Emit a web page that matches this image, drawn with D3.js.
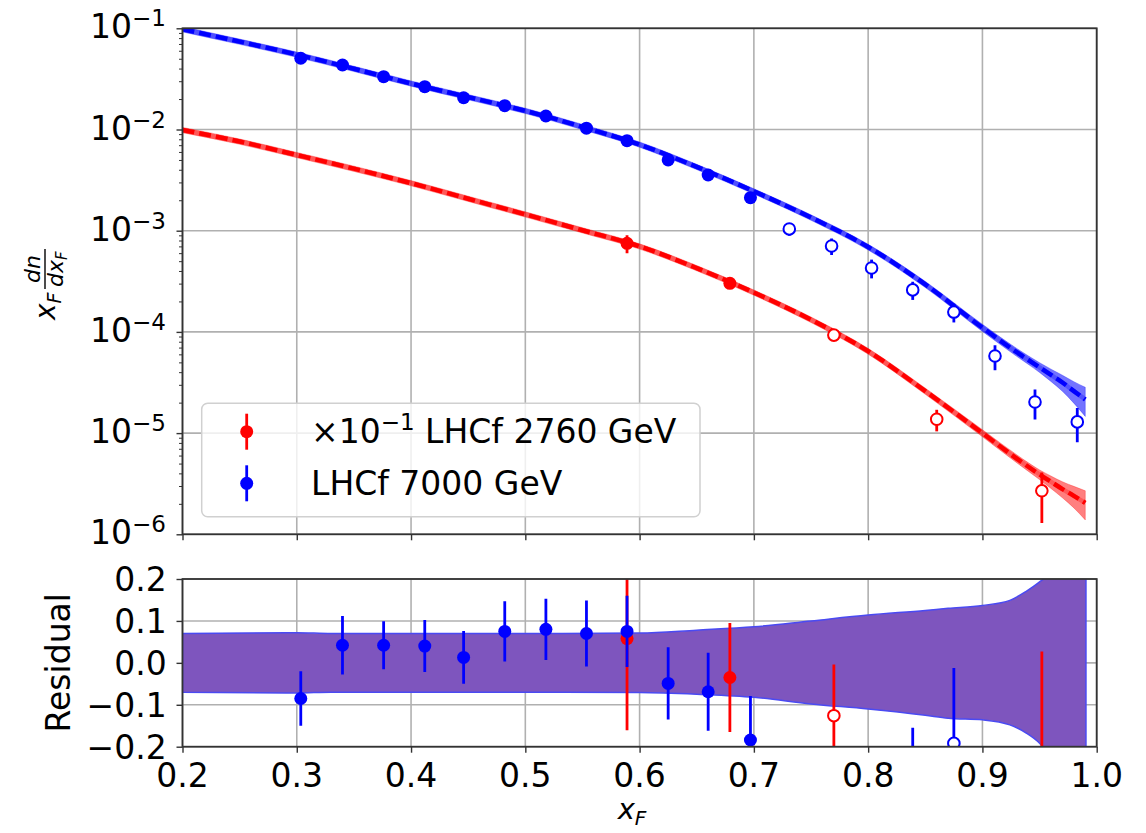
<!DOCTYPE html>
<html><head><meta charset="utf-8">
<script src="https://cdn.jsdelivr.net/npm/d3@7"></script>
<style>body{margin:0;background:#fff;} svg{display:block;font-family:"DejaVu Sans",sans-serif;}</style>
</head><body><svg id="c" width="1146" height="833"></svg>
<script>
// ---------- data ----------
const xTicks = [0.2,0.3,0.4,0.5,0.6,0.7,0.8,0.9,1.0];
const xTickLabels = ["0.2","0.3","0.4","0.5","0.6","0.7","0.8","0.9","1.0"];
const yTopTicks = [1e-1,1e-2,1e-3,1e-4,1e-5,1e-6];
const yTopTickExp = ["\u22121","\u22122","\u22123","\u22124","\u22125","\u22126"];
const resTicks = [0.2,0.1,0.0,-0.1,-0.2];
const resTickLabels = ["0.2","0.1","0.0","\u22120.1","\u22120.2"];

// model curves
const xModel    = [0.2,0.25,0.3,0.35,0.4,0.45,0.5,0.55,0.6,0.65,0.7,0.75,0.8,0.85,0.9,0.93,0.95,0.96,0.97,0.98,0.99];
const blueModel = [0.098,0.0738,0.055,0.0398,0.0285,0.0209,0.0153,0.0106,0.0071,0.00427,0.00245,0.00135,6.9e-4,2.95e-4,1.1e-4,6.3e-5,4.47e-5,3.76e-5,3.16e-5,2.6e-5,2.15e-5];
const redModel  = [9.9e-3,7.6e-3,5.6e-3,4.1e-3,2.95e-3,2.07e-3,1.45e-3,1.01e-3,7.0e-4,4.27e-4,2.45e-4,1.32e-4,6.45e-5,2.6e-5,1.0e-5,5.6e-6,3.9e-6,3.3e-6,2.8e-6,2.4e-6,2.04e-6];
const bandRel   = [0.06,0.06,0.06,0.06,0.06,0.06,0.06,0.06,0.06,0.06,0.06,0.062,0.065,0.07,0.08,0.09,0.11,0.14,0.18,0.24,0.32];

// residual band
const resBandX  = [0.2,0.3,0.33,0.4,0.5,0.6,0.65,0.7,0.75,0.8,0.85,0.87,0.9,0.924,0.938,0.95,0.957,0.965,0.975,0.9906];
const resBandHi = [0.07,0.072,0.07,0.07,0.07,0.071,0.078,0.086,0.1,0.114,0.125,0.13,0.137,0.149,0.17,0.193,0.21,0.26,0.34,0.45];
const resBandLo = [-0.07,-0.072,-0.07,-0.07,-0.07,-0.071,-0.075,-0.082,-0.098,-0.11,-0.125,-0.132,-0.136,-0.148,-0.167,-0.192,-0.215,-0.26,-0.34,-0.45];

// LHCf 7000 GeV
const blueX   = [0.3035,0.340,0.376,0.412,0.446,0.482,0.518,0.5535,0.589,0.625,0.660,0.697,0.731,0.768,0.803,0.839,0.875,0.911,0.946,0.983];
const blueY   = [0.0506,0.0434,0.0333,0.0265,0.0206,0.0172,0.0136,0.0103,0.00775,0.0050,0.00355,0.00212,0.00104,0.000706,0.000428,0.000260,0.000157,5.78e-5,2.03e-5,1.29e-5];
const blueErr = [0.0033,0.0030,0.0019,0.0016,0.0013,0.0012,0.0010,0.0008,0.00066,0.00043,0.00033,0.00022,1.5e-4,1.3e-4,9e-5,5.3e-5,3.3e-5,1.6e-5,6.7e-6,4.8e-6];
const blueOpen = [0,0,0,0,0,0,0,0,0,0,0,0,1,1,1,1,1,1,1,1];
const blueRes    = [-0.085,0.042,0.042,0.040,0.013,0.075,0.080,0.070,0.075,-0.049,-0.069,-0.184,-0.34,-0.31,-0.33,-0.27,-0.192,-0.45,-0.5,-0.5];
const blueResErr = [0.065,0.07,0.057,0.062,0.063,0.072,0.073,0.079,0.085,0.086,0.093,0.105,0.05,0.08,0.09,0.115,0.18,0.2,0.2,0.25];

// x10^-1 LHCf 2760 GeV
const redX   = [0.589,0.679,0.770,0.860,0.952];
const redY   = [7.5e-4,3.02e-4,9.3e-5,1.37e-5,2.69e-6];
const redErr = [1.5e-4,3.5e-5,1.2e-5,3.3e-6,1.4e-6];
const redOpen = [0,0,1,1,1];
const redRes    = [0.058,-0.035,-0.126,-0.5,-0.35];
const redResErr = [0.219,0.13,0.122,0.17,0.377];

// ---------- layout ----------
const L = 182.5, R = 1096.7;
const T1 = 28.3, B1 = 534.3, T2 = 579, B2 = 746.7;
const x = d3.scaleLinear().domain([0.2,1.0]).range([L,R]);
const yTop = d3.scaleLog().domain([1e-6,1e-1]).range([B1,T1]);
const yRes = d3.scaleLinear().domain([-0.2,0.2]).range([B2,T2]);

const svg = d3.select("#c");
const defs = svg.append("defs");
defs.append("clipPath").attr("id","clipTop").append("rect").attr("x",L).attr("y",T1).attr("width",R-L).attr("height",B1-T1);
defs.append("clipPath").attr("id","clipRes").append("rect").attr("x",L).attr("y",T2).attr("width",R-L).attr("height",B2-T2);

const gridC = "#b0b0b0", gridW = 1.6;
const BLUE = "#0000ff", RED = "#ff0000";

// ---------- top panel ----------
const gTop = svg.append("g");
gTop.append("g").selectAll("line").data(xTicks).join("line")
  .attr("x1",d=>x(d)).attr("x2",d=>x(d)).attr("y1",T1).attr("y2",B1)
  .attr("stroke",gridC).attr("stroke-width",gridW);
gTop.append("g").selectAll("line").data(yTopTicks).join("line")
  .attr("x1",L).attr("x2",R).attr("y1",d=>yTop(d)).attr("y2",d=>yTop(d))
  .attr("stroke",gridC).attr("stroke-width",gridW);

const plotTop = gTop.append("g").attr("clip-path","url(#clipTop)");
function drawModel(vals, color, op) {
  const pts = xModel.map((xx,i)=>({x:xx, y:vals[i], lo:vals[i]*(1-bandRel[i]), hi:vals[i]*(1+bandRel[i])}));
  plotTop.append("path").datum(pts)
    .attr("d", d3.area().x(d=>x(d.x)).y0(d=>yTop(d.lo)).y1(d=>yTop(d.hi)).curve(d3.curveMonotoneX))
    .attr("fill",color).attr("fill-opacity",op).attr("stroke",color).attr("stroke-opacity",0.3).attr("stroke-width",1);
  const line = d3.line().x(d=>x(d.x)).y(d=>yTop(d.y)).curve(d3.curveMonotoneX);
  plotTop.append("path").datum(pts).attr("d",line).attr("fill","none")
    .attr("stroke",color).attr("stroke-opacity",0.3).attr("stroke-width",4.5);
  plotTop.append("path").datum(pts).attr("d",line).attr("fill","none")
    .attr("stroke",color).attr("stroke-width",4.5).attr("stroke-dasharray","12,5");
}
drawModel(redModel, RED, 0.5);
drawModel(blueModel, BLUE, 0.55);

function drawPoints(g, xs, ys, errs, open, color, yS, isLog) {
  const pts = xs.map((xx,i)=>({x:xx,y:ys[i],e:errs[i],o:open[i]}));
  g.append("g").selectAll("line").data(pts).join("line")
    .attr("x1",d=>x(d.x)).attr("x2",d=>x(d.x))
    .attr("y1",d=>yS(isLog ? Math.max(d.y-d.e, 1e-9) : d.y-d.e)).attr("y2",d=>yS(d.y+d.e))
    .attr("stroke",color).attr("stroke-width",2.8);
  g.append("g").selectAll("circle").data(pts).join("circle")
    .attr("cx",d=>x(d.x)).attr("cy",d=>yS(d.y)).attr("r",d=>d.o?5.8:6.5)
    .attr("fill",d=>d.o?"#fff":color).attr("stroke",color).attr("stroke-width",d=>d.o?2:0);
}
drawPoints(plotTop, redX, redY, redErr, redOpen, RED, yTop, true);
drawPoints(plotTop, blueX, blueY, blueErr, blueOpen, BLUE, yTop, true);

// top axes
const axTopX = gTop.append("g").attr("transform",`translate(0,${B1})`)
  .call(d3.axisBottom(x).tickValues(xTicks).tickSize(6).tickSizeOuter(0).tickFormat(""));
const axTopY = gTop.append("g").attr("transform",`translate(${L},0)`)
  .call(d3.axisLeft(yTop).tickValues(yTopTicks).tickSize(6).tickSizeOuter(0).tickFormat(""));
const minor = [];
for (let k=-6;k<-1;k++) for (let m=2;m<10;m++) minor.push(m*Math.pow(10,k));
const axTopYm = gTop.append("g").attr("transform",`translate(${L},0)`)
  .call(d3.axisLeft(yTop).tickValues(minor).tickSize(3.5).tickSizeOuter(0).tickFormat(""));
[axTopX,axTopY,axTopYm].forEach(a=>{a.select(".domain").remove(); a.selectAll("line").attr("stroke","#333").attr("stroke-width",1.4);});
axTopYm.selectAll("line").attr("stroke-width",1);
gTop.append("rect").attr("x",L).attr("y",T1).attr("width",R-L).attr("height",B1-T1)
  .attr("fill","none").attr("stroke","#333").attr("stroke-width",1.8);

const yLab = gTop.append("g").selectAll("text").data(yTopTicks).join("text")
  .attr("x",166).attr("y",d=>yTop(d)+10).attr("text-anchor","end").attr("font-size",33).attr("fill","#000");
yLab.append("tspan").text("10");
yLab.append("tspan").attr("dy",-12).attr("font-size",23).text((d,i)=>yTopTickExp[i]);

// top y label: x_F dn/dx_F
const yl = svg.append("g").attr("transform","translate(55,320) rotate(-90)").attr("fill","#000");
yl.append("text").attr("x",0).attr("y",0).attr("font-size",28).attr("font-style","italic").text("x");
yl.append("text").attr("x",16.6).attr("y",6).attr("font-size",19).attr("font-style","italic").text("F");
const fx = 31, fw = 40;
yl.append("text").attr("x",fx+fw/2).attr("y",-15).attr("text-anchor","middle").attr("font-size",22).attr("font-style","italic").text("dn");
yl.append("line").attr("x1",fx).attr("x2",fx+fw).attr("y1",-10).attr("y2",-10).attr("stroke","#000").attr("stroke-width",1.4);
const den = yl.append("text").attr("x",fx+2).attr("y",8).attr("font-size",22).attr("font-style","italic");
den.append("tspan").text("dx");
den.append("tspan").attr("dy",4).attr("font-size",15).text("F");

// legend
const lg = svg.append("g");
lg.append("rect").attr("x",201.7).attr("y",403.3).attr("width",498.3).attr("height",113.4).attr("rx",6)
  .attr("fill","#fff").attr("fill-opacity",0.8).attr("stroke","#d0d0d0").attr("stroke-width",1.5);
const legRows = [{c:RED,y:431.7},{c:BLUE,y:483.3}];
legRows.forEach(r=>{
  lg.append("line").attr("x1",246.7).attr("x2",246.7).attr("y1",r.y-18).attr("y2",r.y+18).attr("stroke",r.c).attr("stroke-width",2.8);
  lg.append("circle").attr("cx",246.7).attr("cy",r.y).attr("r",6.5).attr("fill",r.c);
});
const t1 = lg.append("text").attr("x",311).attr("y",443.3).attr("font-size",33).attr("fill","#000");
t1.append("tspan").text("\u00d710");
t1.append("tspan").attr("dy",-13).attr("font-size",23).text("\u22121");
t1.append("tspan").attr("dy",13).text(" LHCf 2760 GeV");
lg.append("text").attr("x",311).attr("y",495).attr("font-size",33).attr("fill","#000").text("LHCf 7000 GeV");

// ---------- residual panel ----------
const gRes = svg.append("g");
gRes.append("g").selectAll("line").data(xTicks).join("line")
  .attr("x1",d=>x(d)).attr("x2",d=>x(d)).attr("y1",T2).attr("y2",B2)
  .attr("stroke",gridC).attr("stroke-width",gridW);
gRes.append("g").selectAll("line").data(resTicks).join("line")
  .attr("x1",L).attr("x2",R).attr("y1",d=>yRes(d)).attr("y2",d=>yRes(d))
  .attr("stroke",gridC).attr("stroke-width",gridW);
const plotRes = gRes.append("g").attr("clip-path","url(#clipRes)");
const rb = resBandX.map((xx,i)=>({x:xx,hi:resBandHi[i],lo:resBandLo[i]}));
plotRes.append("path").datum(rb)
  .attr("d", d3.area().x(d=>x(d.x)).y0(d=>yRes(d.lo)).y1(d=>yRes(d.hi)).curve(d3.curveMonotoneX))
  .attr("fill","#7e55be").attr("stroke","#4a4af2").attr("stroke-width",1.5);
drawPoints(plotRes, redX, redRes, redResErr, redOpen, RED, yRes, false);
drawPoints(plotRes, blueX, blueRes, blueResErr, blueOpen, BLUE, yRes, false);

const axResX = gRes.append("g").attr("transform",`translate(0,${B2})`)
  .call(d3.axisBottom(x).tickValues(xTicks).tickSize(6).tickSizeOuter(0).tickFormat(""));
const axResY = gRes.append("g").attr("transform",`translate(${L},0)`)
  .call(d3.axisLeft(yRes).tickValues(resTicks).tickSize(6).tickSizeOuter(0).tickFormat(""));
[axResX,axResY].forEach(a=>{a.select(".domain").remove(); a.selectAll("line").attr("stroke","#333").attr("stroke-width",1.4);});
gRes.append("rect").attr("x",L).attr("y",T2).attr("width",R-L).attr("height",B2-T2)
  .attr("fill","none").attr("stroke","#333").attr("stroke-width",1.8);

gRes.append("g").selectAll("text").data(xTicks).join("text")
  .attr("x",d=>x(d)).attr("y",787).attr("text-anchor","middle").attr("font-size",33).attr("fill","#000")
  .text((d,i)=>xTickLabels[i]);
gRes.append("g").selectAll("text").data(resTicks).join("text")
  .attr("x",166.7).attr("y",d=>yRes(d)+12).attr("text-anchor","end").attr("font-size",33).attr("fill","#000")
  .text((d,i)=>resTickLabels[i]);

svg.append("text").attr("transform","translate(70,662.7) rotate(-90)").attr("text-anchor","middle")
  .attr("font-size",33).attr("fill","#000").text("Residual");

const xl = svg.append("text").attr("x",632).attr("y",819).attr("text-anchor","middle").attr("font-size",29).attr("font-style","italic").attr("fill","#000");
xl.append("tspan").text("x");
xl.append("tspan").attr("dy",6).attr("font-size",20).text("F");
</script></body></html>
